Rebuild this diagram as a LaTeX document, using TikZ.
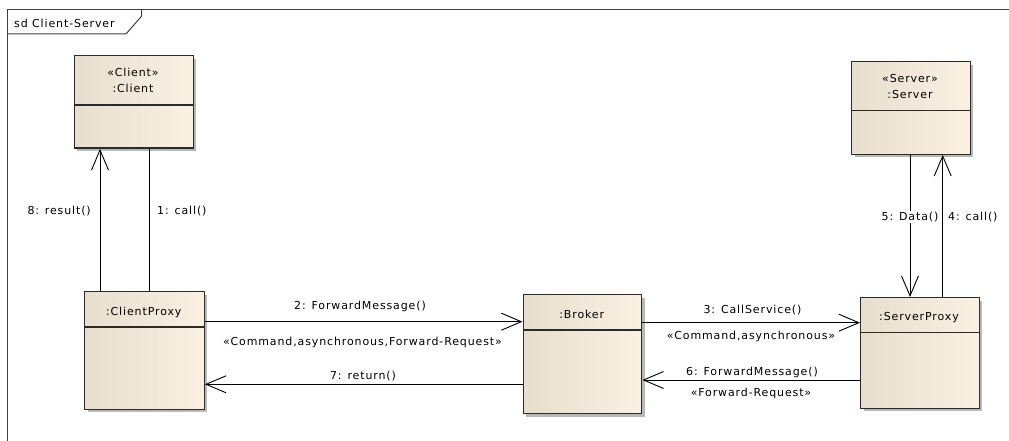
\documentclass[tikz,border=0pt]{standalone}
\usepackage{fontspec}
\setmainfont{DejaVu Sans}[LetterSpace=8]
\usetikzlibrary{arrows.meta,shadows}
\definecolor{boxleft}{HTML}{E8DECE}
\definecolor{boxright}{HTML}{FBF1E3}
\definecolor{boxline}{HTML}{2B2B2B}
\definecolor{frameline}{HTML}{404040}
\tikzset{
  box/.style={draw=boxline, line width=1.4pt, left color=boxleft, right color=boxright,
    anchor=north west, inner sep=0pt,
    drop shadow={shadow xshift=3pt, shadow yshift=-3pt, fill=black!28, opacity=1}},
  divider/.style={draw=boxline, line width=1.2pt},
  lbl/.style={font=\fontsize{11}{13}\selectfont, inner sep=0pt, anchor=base},
  msg/.style={draw=black, line width=0.9pt},
  arr/.style={msg, -{Straight Barb[length=20pt,width=17pt,line width=0.9pt]}},
  frame/.style={draw=frameline, line width=1pt}
}
\begin{document}
\begin{tikzpicture}[x=1pt,y=-1pt]
\useasboundingbox (0,0) rectangle (1009,441);
\fill[white] (0,0) rectangle (1009,441);

% diagram frame and its name tab
\coordinate (fbl) at (7.5,441);
\coordinate (ftl) at (7.5,9.3);
\coordinate (ftr) at (1009,9.3);
\coordinate (tabr) at (141.7,9.3);
\coordinate (tabk) at (141.7,16);
\coordinate (tabb) at (126,34);
\coordinate (tabl) at (7.5,34);
\draw[frame] (fbl) -- (ftl) -- (ftr);
\draw[frame] (tabr) -- (tabk) -- (tabb) -- (tabl);
\node[lbl, anchor=base west] (title) at (14,27.5) {sd Client-Server};

% lifeline objects
\node[box, minimum width=119pt, minimum height=92.5pt] (client) at (73.5,55) {};
\node[box, minimum width=118.5pt, minimum height=92.5pt] (server) at (851,61) {};
\node[box, minimum width=119.5pt, minimum height=117.5pt] (cproxy) at (84,291) {};
\node[box, minimum width=118.5pt, minimum height=119pt] (broker) at (522.5,294) {};
\node[box, minimum width=118.5pt, minimum height=110.5pt] (sproxy) at (860,297) {};

\draw[divider] ([yshift=-50pt]client.north west) -- ([yshift=-50pt]client.north east);
\draw[divider] ([yshift=-49.5pt]server.north west) -- ([yshift=-49.5pt]server.north east);
\draw[divider] ([yshift=-36pt]cproxy.north west) -- ([yshift=-36pt]cproxy.north east);
\draw[divider] ([yshift=-36pt]broker.north west) -- ([yshift=-36pt]broker.north east);
\draw[divider] ([yshift=-35.5pt]sproxy.north west) -- ([yshift=-35.5pt]sproxy.north east);

\node[lbl] (clientst) at (133,76.5) {«Client»};
\node[lbl] (clientnm) at (133,93) {:Client};
\node[lbl] (serverst) at (910,82.5) {«Server»};
\node[lbl] (servernm) at (910,98.5) {:Server};
\node[lbl] (cproxynm) at (143.75,315.5) {:ClientProxy};
\node[lbl] (brokernm) at (581.75,318) {:Broker};
\node[lbl] (sproxynm) at (919,320.5) {:ServerProxy};

% messages between Client and ClientProxy
\draw[arr] ([xshift=16pt]cproxy.north west) -- ([xshift=16pt]cproxy.north west |- client.south);
\draw[msg] ([xshift=65pt]cproxy.north west |- client.south) -- ([xshift=65pt]cproxy.north west);
\node[lbl, anchor=base east] (m8) at (91,214.5) {8: result()};
\node[lbl, anchor=base west] (m1) at (157,214.5) {1: call()};

% messages between ClientProxy and Broker
\draw[arr] ([yshift=-30.7pt]cproxy.north east) -- ([yshift=-30.7pt]cproxy.north east -| broker.west);
\draw[arr] ([yshift=-90.3pt]broker.north west) -- ([yshift=-90.3pt]broker.north west -| cproxy.east);
\node[lbl] (m2) at (360,309.5) {2: ForwardMessage()};
\node[lbl] (m2s) at (362.5,345.5) {«Command,asynchronous,Forward-Request»};
\node[lbl] (m7) at (363,379) {7: return()};

% messages between Broker and ServerProxy
\draw[arr] ([yshift=-28.7pt]broker.north east) -- ([yshift=-28.7pt]broker.north east -| sproxy.west);
\draw[arr] ([yshift=-83pt]sproxy.north west) -- ([yshift=-83pt]sproxy.north west -| broker.east);
\node[lbl] (m3) at (752.5,313) {3: CallService()};
\node[lbl] (m3s) at (751,339) {«Command,asynchronous»};
\node[lbl] (m6) at (752,375) {6: ForwardMessage()};
\node[lbl] (m6s) at (751,396.5) {«Forward-Request»};

% messages between ServerProxy and Server
\draw[arr] ([xshift=59pt]server.south west) -- ([xshift=59pt]server.south west |- sproxy.north);
\draw[arr] ([xshift=82.7pt]sproxy.north west) -- ([xshift=82.7pt]sproxy.north west |- server.south);
\node[lbl, fill=white, inner sep=1pt] (m5) at (910,220.5) {5: Data()};
\node[lbl, anchor=base west] (m4) at (948,220.5) {4: call()};
\end{tikzpicture}
\end{document}
